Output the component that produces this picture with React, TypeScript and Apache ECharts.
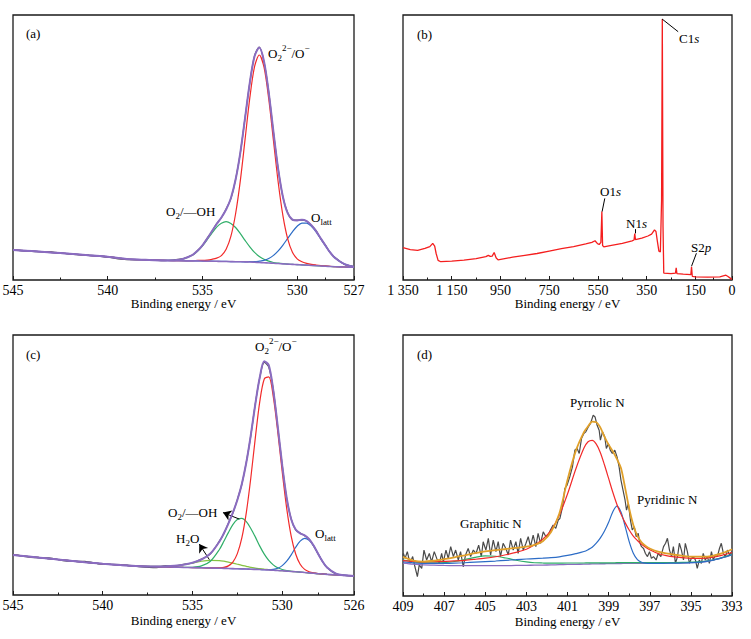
import React, { useEffect, useRef } from 'react';
import * as echarts from 'echarts';

const FONT = '"Liberation Serif", "Times New Roman", Times, serif';

// ---------- (a) O 1s ----------
const aEnergy = [545, 544, 543, 542, 541, 540, 539, 538, 537, 536.5, 536, 535.5, 535.25, 535, 534.75, 534.5, 534.25, 534, 533.75, 533.5, 533.25, 533, 532.75, 532.5, 532.25, 532, 531.75, 531.5, 531.25, 531, 530.75, 530.5, 530.25, 530, 529.75, 529.5, 529.25, 529, 528.75, 528.5, 528.25, 528, 527.5, 527];
const aRaw = [11.4, 10.8, 10.6, 9.8, 9.4, 8.6, 7.7, 7.7, 7.3, 7.6, 8.1, 9.5, 11.2, 13.0, 15.7, 18.3, 21.3, 23.5, 26.8, 30.7, 38.0, 48.0, 61.3, 74.4, 84.6, 87.9, 82.3, 70.9, 55.6, 41.9, 31.2, 25.4, 22.7, 22.6, 22.6, 22.3, 20.6, 18.6, 15.5, 13.1, 10.2, 8.5, 5.9, 5.1];
const aEnvelope = [11.3, 10.9, 10.4, 9.9, 9.3, 8.8, 7.9, 7.6, 7.4, 7.45, 8.0, 9.6, 11.1, 13.1, 15.6, 18.4, 21.15, 23.6, 26.6, 30.85, 37.9, 48.1, 61.15, 74.5, 84.4, 87.7, 82.5, 70.7, 55.8, 41.75, 31.35, 25.2, 22.8, 22.5, 22.7, 22.2, 20.7, 18.45, 15.65, 12.9, 10.3, 8.3, 6.0, 5.0];
const aBackground = [11.3, 10.9, 10.4, 9.9, 9.3, 8.8, 7.9, 7.6, 7.4, 7.3, 7.25, 7.2, 7.2, 7.15, 7.1, 7.1, 7.05, 7.0, 7.0, 6.95, 6.9, 6.9, 6.85, 6.8, 6.7, 6.6, 6.5, 6.4, 6.3, 6.2, 6.1, 6.0, 5.9, 5.8, 5.7, 5.6, 5.5, 5.4, 5.3, 5.2, 5.1, 5.0, 4.9, 4.8];
const aPeroxide = [11.3, 10.9, 10.4, 9.9, 9.3, 8.8, 7.9, 7.6, 7.4, 7.3, 7.3, 7.3, 7.4, 7.4, 7.5, 7.8, 8.25, 9.2, 11.6, 16.45, 25.0, 37.5, 53.05, 68.7, 80.5, 84.9, 80.3, 68.3, 52.5, 36.8, 24.2, 15.5, 10.5, 8.0, 6.9, 6.3, 5.9, 5.65, 5.45, 5.3, 5.15, 5.0, 4.9, 4.8];
const aHydroxyl = [11.3, 10.9, 10.4, 9.9, 9.3, 8.8, 7.9, 7.6, 7.4, 7.45, 7.95, 9.5, 10.9, 12.85, 15.2, 17.7, 19.95, 21.4, 22.0, 21.35, 19.8, 17.5, 14.95, 12.5, 10.4, 8.9, 7.8, 7.1, 6.6, 6.35, 6.15, 6.0, 5.9, 5.8, 5.7, 5.6, 5.5, 5.4, 5.3, 5.2, 5.1, 5.0, 4.9, 4.8];
const aLattice = [11.3, 10.9, 10.4, 9.9, 9.3, 8.8, 7.9, 7.6, 7.4, 7.3, 7.25, 7.2, 7.2, 7.15, 7.1, 7.1, 7.05, 7.0, 7.0, 6.95, 6.9, 6.9, 6.85, 6.9, 6.9, 7.1, 7.4, 8.1, 9.3, 11.0, 13.2, 15.7, 18.2, 20.3, 21.5, 21.5, 20.3, 18.2, 15.5, 12.8, 10.3, 8.3, 6.0, 5.0];

// ---------- (b) survey ----------
const bEnergy = [1350, 1320, 1290, 1260, 1240, 1228, 1220, 1214, 1206, 1195, 1150, 1100, 1050, 1010, 1000, 992, 984, 976, 968, 960, 900, 850, 800, 750, 700, 650, 600, 575, 562, 552, 545, 538, 534, 531, 526, 500, 450, 410, 402, 399, 396, 370, 345, 330, 318, 312, 306, 300, 294, 289, 286, 283, 280, 250, 232, 229, 226, 200, 169, 166, 163, 150, 100, 50, 25, 18, 10, 0];
const bIntensity = [12.2, 11.5, 11.2, 11.9, 12.6, 13.8, 12.8, 10.0, 7.4, 6.9, 7.1, 7.5, 8.1, 8.8, 9.3, 8.9, 9.0, 10.4, 8.4, 7.6, 8.6, 9.3, 10.0, 10.9, 11.8, 12.6, 13.6, 14.2, 14.8, 13.7, 13.4, 14.2, 25.8, 13.0, 12.5, 13.0, 13.8, 14.8, 15.1, 17.5, 15.2, 15.8, 16.6, 17.3, 18.9, 18.3, 14.5, 10.9, 10.6, 30, 98.5, 20, 2.6, 2.4, 2.6, 4.6, 2.4, 2.2, 2.0, 5.0, 1.4, 1.2, 1.1, 1.2, 1.8, 1.4, 0.9, 0.2];

// ---------- (c) O 1s ----------
const cEnergy = [545, 544, 543, 542, 541, 540, 539, 538, 537, 536.5, 536, 535.5, 535, 534.5, 534, 533.5, 533.25, 533, 532.75, 532.5, 532.25, 532, 531.75, 531.5, 531.25, 531, 530.75, 530.5, 530.25, 530, 529.75, 529.5, 529.25, 529, 528.75, 528.5, 528.25, 528, 527.75, 527.5, 527, 526.5, 526];
const cRaw = [15.6, 14.5, 14.3, 13.0, 12.9, 11.8, 11.7, 10.9, 10.5, 11.3, 11.1, 11.8, 12.3, 13.8, 15.8, 20.7, 23.6, 27.6, 31.5, 36.7, 42.6, 51.1, 61.3, 73.5, 83.6, 89.5, 87.7, 79.1, 64.7, 50.0, 37.2, 29.3, 25.0, 23.8, 22.8, 21.5, 18.9, 15.9, 12.8, 10.6, 8.1, 7.6, 7.3];
const cEnvelope = [15.4, 14.7, 14.0, 13.3, 12.6, 12.0, 11.5, 11.1, 10.98, 11.02, 11.22, 11.64, 12.41, 13.65, 15.94, 20.54, 23.75, 27.47, 31.67, 36.54, 42.72, 50.94, 61.45, 73.37, 83.74, 89.9, 88.4, 78.93, 64.9, 49.92, 37.3, 29.14, 25.18, 23.7, 22.95, 21.45, 19.0, 15.85, 12.9, 10.55, 8.2, 7.56, 7.3];
const cBackground = [15.4, 14.7, 14.0, 13.3, 12.6, 12.0, 11.5, 11.1, 10.9, 10.8, 10.7, 10.6, 10.55, 10.5, 10.4, 10.3, 10.25, 10.2, 10.15, 10.1, 10.05, 10.0, 9.9, 9.85, 9.8, 9.7, 9.6, 9.5, 9.4, 9.3, 9.2, 9.05, 8.95, 8.8, 8.65, 8.5, 8.35, 8.2, 8.1, 7.95, 7.7, 7.5, 7.3];
const cPeroxide = [15.4, 14.7, 14.0, 13.3, 12.6, 12.0, 11.5, 11.1, 10.9, 10.8, 10.7, 10.6, 10.55, 10.5, 10.4, 10.45, 10.6, 11.2, 12.65, 15.9, 21.95, 31.7, 45.0, 60.35, 74.4, 83.1, 83.9, 76.4, 62.9, 47.4, 33.3, 22.65, 15.75, 11.8, 9.85, 8.95, 8.5, 8.25, 8.1, 7.95, 7.7, 7.5, 7.3];
const cHydroxyl = [15.4, 14.7, 14.0, 13.3, 12.6, 12.0, 11.5, 11.1, 10.9, 10.8, 10.7, 10.6, 10.67, 11.18, 13.0, 17.5, 20.65, 24.0, 27.05, 29.0, 29.45, 28.2, 25.6, 22.35, 18.8, 15.7, 13.3, 11.6, 10.46, 9.8, 9.4, 9.14, 8.98, 8.8, 8.65, 8.5, 8.35, 8.2, 8.1, 7.95, 7.7, 7.5, 7.3];
const cWater = [15.4, 14.7, 14.0, 13.3, 12.6, 12.0, 11.5, 11.1, 10.98, 11.02, 11.22, 11.64, 12.29, 12.97, 13.34, 13.24, 13.0, 12.67, 12.27, 11.84, 11.42, 11.04, 10.65, 10.37, 10.14, 9.92, 9.73, 9.58, 9.44, 9.32, 9.2, 9.05, 8.95, 8.8, 8.65, 8.5, 8.35, 8.2, 8.1, 7.95, 7.7, 7.5, 7.3];
const cLattice = [15.4, 14.7, 14.0, 13.3, 12.6, 12.0, 11.5, 11.1, 10.9, 10.8, 10.7, 10.6, 10.55, 10.5, 10.4, 10.3, 10.25, 10.2, 10.15, 10.1, 10.05, 10.0, 9.9, 9.85, 9.8, 9.74, 9.72, 9.85, 10.3, 11.3, 13.0, 15.45, 18.35, 20.7, 21.75, 21.0, 18.85, 15.8, 12.9, 10.55, 8.2, 7.56, 7.3];

// ---------- (d) N 1s ----------
const dEnergy = [409, 408.5, 408, 407.5, 407, 406.5, 406, 405.5, 405, 404.5, 404, 403.5, 403, 402.6, 402.2, 401.8, 401.4, 401.0, 400.6, 400.2, 400.0, 399.8, 399.6, 399.4, 399.2, 399.0, 398.8, 398.6, 398.4, 398.2, 398.0, 397.8, 397.6, 397.4, 397.2, 397.0, 396.6, 396.2, 395.8, 395.4, 395.0, 394.5, 394.0, 393.5, 393.0];
const dEnvelope = [15.0, 13.6, 13.2, 13.5, 14.1, 14.8, 15.6, 16.4, 17.1, 17.6, 18.0, 18.4, 18.9, 19.6, 21.0, 24.5, 31.5, 44.5, 55.5, 62.8, 65.0, 66.8, 66.6, 64.5, 61.0, 58.0, 55.5, 52.5, 49.0, 41.5, 33.5, 27.2, 23.0, 20.6, 19.2, 18.2, 17.0, 16.3, 15.8, 15.4, 15.1, 15.1, 15.3, 16.3, 17.9];
const dBackground = [12.6, 12.2, 11.9, 11.8, 11.7, 11.65, 11.6, 11.6, 11.6, 11.6, 11.65, 11.7, 11.75, 11.8, 11.85, 11.9, 12.0, 12.1, 12.15, 12.2, 12.25, 12.3, 12.3, 12.35, 12.35, 12.4, 12.4, 12.45, 12.45, 12.5, 12.5, 12.5, 12.5, 12.5, 12.5, 12.5, 12.5, 12.55, 12.6, 12.65, 12.75, 13.0, 13.6, 14.6, 15.8];
const dPyrrolic = [13.55, 13.24, 13.08, 13.17, 13.26, 13.45, 13.68, 14.06, 14.49, 15.05, 15.81, 16.71, 17.9, 19.6, 21.78, 25.14, 30.92, 39.06, 48.57, 56.66, 59.08, 59.6, 58.18, 54.92, 50.19, 45.04, 39.83, 35.15, 31.37, 28.11, 25.27, 22.91, 21.25, 19.83, 18.65, 17.7, 16.28, 15.48, 14.97, 14.68, 14.45, 14.42, 14.78, 15.59, 16.65];
const dPyridinic = [13.04, 12.68, 12.47, 12.48, 12.49, 12.57, 12.74, 12.96, 13.18, 13.4, 13.67, 13.9, 14.17, 14.33, 14.49, 14.69, 15.01, 15.55, 16.22, 17.04, 17.75, 18.68, 20.22, 22.25, 24.89, 28.24, 32.2, 34.45, 32.18, 26.78, 20.82, 16.39, 13.97, 12.94, 12.61, 12.5, 12.5, 12.55, 12.6, 12.65, 12.75, 13.0, 13.6, 14.6, 15.8];
const dGraphitic = [13.8, 13.2, 12.77, 12.69, 12.8, 13.22, 13.95, 14.83, 15.37, 15.22, 14.55, 13.7, 13.04, 12.74, 12.64, 12.58, 12.6, 12.65, 12.65, 12.65, 12.7, 12.7, 12.7, 12.7, 12.7, 12.7, 12.7, 12.75, 12.75, 12.8, 12.8, 12.8, 12.8, 12.8, 12.8, 12.8, 12.8, 12.8, 12.8, 12.85, 12.95, 13.15, 13.7, 14.7, 15.85];
const dRawEnergy = [409.0, 408.98, 408.9, 408.79, 408.66, 408.53, 408.42, 408.3, 408.21, 408.09, 407.98, 407.85, 407.72, 407.61, 407.48, 407.36, 407.23, 407.12, 407.04, 406.91, 406.8, 406.68, 406.55, 406.44, 406.31, 406.2, 406.07, 405.96, 405.83, 405.71, 405.58, 405.45, 405.32, 405.19, 405.1, 404.97, 404.85, 404.74, 404.61, 404.48, 404.37, 404.26, 404.13, 404.0, 403.88, 403.77, 403.64, 403.51, 403.4, 403.28, 403.15, 403.02, 402.91, 402.8, 402.67, 402.54, 402.43, 402.31, 402.18, 402.05, 401.94, 401.83, 401.7, 401.57, 401.45, 401.37, 401.24, 401.13, 401.02, 400.89, 400.76, 400.64, 400.53, 400.43, 400.32, 400.21, 400.11, 399.99, 399.88, 399.75, 399.66, 399.56, 399.46, 399.4, 399.3, 399.19, 399.11, 399.01, 398.92, 398.82, 398.7, 398.59, 398.49, 398.4, 398.3, 398.2, 398.13, 398.04, 397.94, 397.85, 397.75, 397.66, 397.56, 397.5, 397.4, 397.3, 397.21, 397.11, 397.01, 396.92, 396.82, 396.69, 396.59, 396.46, 396.33, 396.23, 396.14, 396.04, 395.94, 395.85, 395.75, 395.65, 395.56, 395.46, 395.36, 395.27, 395.17, 395.07, 394.98, 394.88, 394.78, 394.69, 394.59, 394.49, 394.4, 394.3, 394.2, 394.1, 394.0, 393.91, 393.81, 393.71, 393.61, 393.52, 393.42, 393.32, 393.22, 393.12, 393.02];
const dRaw = [15.5, 16.3, 14.4, 17.0, 12.5, 15.1, 11.2, 7.4, 11.9, 10.6, 17.6, 13.8, 16.3, 13.1, 17.0, 14.4, 12.5, 16.3, 13.1, 17.6, 14.4, 18.9, 15.1, 17.6, 13.8, 17.0, 11.2, 15.7, 18.2, 15.1, 17.6, 16.3, 19.5, 15.1, 20.8, 17.6, 22.1, 15.7, 21.4, 17.0, 20.8, 15.1, 20.2, 18.2, 15.7, 21.4, 17.6, 20.8, 16.3, 22.1, 17.6, 20.2, 22.7, 18.9, 23.3, 18.9, 24.0, 20.2, 24.6, 22.7, 23.3, 25.3, 27.2, 25.9, 29.1, 29.7, 34.2, 41.2, 42.5, 45.7, 49.5, 55.9, 56.5, 54.6, 60.3, 62.2, 62.9, 64.8, 66.1, 69.3, 68.6, 65.4, 63.5, 59.7, 62.9, 61.0, 56.5, 58.4, 55.9, 54.6, 55.9, 53.3, 49.5, 44.4, 40.6, 36.7, 32.9, 35.5, 29.1, 25.3, 26.5, 22.7, 24.0, 20.8, 18.9, 18.2, 16.3, 15.1, 17.0, 14.4, 15.1, 13.8, 16.3, 15.1, 18.9, 20.2, 22.1, 17.6, 15.1, 18.9, 12.5, 15.1, 20.2, 17.6, 13.8, 20.2, 17.0, 12.5, 14.4, 15.1, 13.8, 10.6, 13.8, 12.5, 16.3, 13.8, 15.1, 12.5, 17.0, 13.8, 15.7, 15.1, 18.2, 20.2, 16.3, 15.1, 17.6, 15.7, 17.0];

// ---------- axes ----------
const aTickValues = [545, 540, 535, 530, 527];
const aMinorTicks = [542.5, 537.5, 532.5, 528.5];
const bTickValues = [1350, 1150, 950, 750, 550, 350, 150, 0];
const bTickLabels = ['1 350', '1 150', '950', '750', '550', '350', '150', '0'];
const bMinorTicks = [1250, 1050, 850, 650, 450, 250, 75];
const cTickValues = [545, 540, 535, 530, 526];
const cMinorTicks = [542.5, 537.5, 532.5, 528];
const dTickValues = [409, 407, 405, 403, 401, 399, 397, 395, 393];
const dMinorTicks = [408, 406, 404, 402, 400, 398, 396, 394];
const axisTitle = 'Binding energy / eV';

const C = {
  purple: '#8a6cc0',
  red: '#f22a2a',
  green: '#2fae68',
  blue: '#2c6cc6',
  lime: '#86c241',
  orange: '#e0a02a',
  gray: '#4a4a4a',
  frame: '#1a1a1a',
};

const GRIDS = [
  { left: 13, top: 15, width: 341, height: 265 },
  { left: 403, top: 15, width: 329, height: 265 },
  { left: 13, top: 335, width: 341, height: 260 },
  { left: 403, top: 335, width: 329, height: 261 },
];

const PANELS = [
  { min: 527, max: 545, majors: aTickValues, labels: aTickValues.map(String), minors: aMinorTicks, nameGap: 17, margin: 3 },
  { min: 0, max: 1350, majors: bTickValues, labels: bTickLabels, minors: bMinorTicks, nameGap: 17, margin: 3 },
  { min: 526, max: 545, majors: cTickValues, labels: cTickValues.map(String), minors: cMinorTicks, nameGap: 19, margin: 3 },
  { min: 393, max: 409, majors: dTickValues, labels: dTickValues.map(String), minors: dMinorTicks, nameGap: 19, margin: 3 },
];

function pairs(xs: number[], ys: number[]) {
  return xs.map((x, i) => [x, ys[i]]);
}

function lineSeries(p: number, xs: number[], ys: number[], color: string, width: number, z: number, smooth: number | boolean = 0.3, extra: any = {}) {
  return {
    type: 'line',
    xAxisIndex: p,
    yAxisIndex: p,
    data: pairs(xs, ys),
    symbol: 'none',
    showSymbol: false,
    smooth,
    lineStyle: { color, width },
    z,
    silent: true,
    ...extra,
  };
}

const RICH = {
  n: { fontSize: 13, fontFamily: FONT, fill: '#000', lineHeight: 19 },
  i: { fontSize: 13, fontFamily: FONT, fill: '#000', lineHeight: 19, fontStyle: 'italic' },
  sub: { fontSize: 9, fontFamily: FONT, fill: '#000', lineHeight: 9, verticalAlign: 'bottom' },
  sup: { fontSize: 9, fontFamily: FONT, fill: '#000', lineHeight: 9, verticalAlign: 'top' },
};

function note(x: number, y: number, text: string) {
  return {
    type: 'text',
    x,
    y,
    silent: true,
    z: 100,
    style: { text, rich: RICH, fill: '#000', fontSize: 13, fontFamily: FONT, align: 'left', verticalAlign: 'middle' },
  };
}

const leaderStyle = { color: '#000', width: 1, type: 'solid' };

export default function App() {
  const ref = useRef<HTMLDivElement>(null);

  useEffect(() => {
    if (!ref.current) return;
    const chart = echarts.init(ref.current, undefined, { renderer: 'svg' });

    const mainAxes = PANELS.map((p, i) => ({
      type: 'value',
      gridIndex: i,
      min: p.min,
      max: p.max,
      inverse: true,
      position: 'bottom',
      name: axisTitle,
      nameLocation: 'middle',
      nameGap: p.nameGap,
      nameMoveOverlap: false,
      nameTextStyle: { fontFamily: FONT, fontSize: 13, color: '#000' },
      axisLine: { show: false, onZero: false },
      axisTick: { show: true, inside: true, length: 4, customValues: p.majors, lineStyle: { color: C.frame, width: 1 } },
      axisLabel: {
        show: true,
        customValues: p.majors,
        margin: p.margin,
        fontFamily: FONT,
        fontSize: 14,
        color: '#000',
        formatter: (v: number) => {
          const k = p.majors.indexOf(v);
          return k >= 0 ? p.labels[k] : '';
        },
      },
      splitLine: { show: false },
    }));

    const minorAxes = PANELS.map((p, i) => ({
      type: 'value',
      gridIndex: i,
      min: p.min,
      max: p.max,
      inverse: true,
      position: 'bottom',
      axisLine: { show: false, onZero: false },
      axisTick: { show: true, inside: true, length: 2.5, customValues: p.minors, lineStyle: { color: C.frame, width: 1 } },
      axisLabel: { show: false },
      splitLine: { show: false },
    }));

    const yAxes = PANELS.map((_, i) => ({ type: 'value', gridIndex: i, min: 0, max: 100, show: false }));

    const series: any[] = [
      // (a)
      lineSeries(0, aEnergy, aRaw, C.gray, 1.2, 1),
      lineSeries(0, aEnergy, aHydroxyl, C.green, 1.2, 2),
      lineSeries(0, aEnergy, aLattice, C.blue, 1.2, 2),
      lineSeries(0, aEnergy, aPeroxide, C.red, 1.2, 3),
      lineSeries(0, aEnergy, aBackground, C.purple, 1.6, 4),
      lineSeries(0, aEnergy, aEnvelope, C.purple, 2, 5),
      // (b)
      lineSeries(1, bEnergy, bIntensity, '#f41e1e', 1.3, 2, false, {
        markLine: {
          silent: true,
          symbol: ['none', 'none'],
          label: { show: false },
          lineStyle: leaderStyle,
          emphasis: { disabled: true },
          data: [
            [{ coord: [287, 98.5] }, { coord: [221, 93.7] }],
            [{ coord: [533, 25.8] }, { coord: [522, 30.8] }],
            [{ coord: [399, 17.6] }, { coord: [399, 19.2] }],
            [{ coord: [146, 10.1] }, { coord: [166, 5.2] }],
          ],
        },
      }),
      // (c)
      lineSeries(2, cEnergy, cRaw, C.gray, 1.2, 1),
      lineSeries(2, cEnergy, cWater, C.lime, 1.2, 2),
      lineSeries(2, cEnergy, cHydroxyl, C.green, 1.2, 2, 0.3, {
        markLine: {
          silent: true,
          symbol: ['none', 'arrow'],
          symbolSize: 8,
          label: { show: false },
          lineStyle: leaderStyle,
          emphasis: { disabled: true },
          data: [
            [{ coord: [532.39, 29.2] }, { coord: [533.3, 31.7] }],
            [{ coord: [534.06, 13.6] }, { coord: [534.62, 19.6] }],
          ],
        },
      }),
      lineSeries(2, cEnergy, cLattice, C.blue, 1.2, 2),
      lineSeries(2, cEnergy, cPeroxide, C.red, 1.2, 3),
      lineSeries(2, cEnergy, cBackground, C.purple, 1.6, 4),
      lineSeries(2, cEnergy, cEnvelope, C.purple, 2, 5),
      // (d)
      lineSeries(3, dRawEnergy, dRaw, C.gray, 1.2, 1, false),
      lineSeries(3, dEnergy, dBackground, C.purple, 1.3, 2),
      lineSeries(3, dEnergy, dGraphitic, C.green, 1.2, 3),
      lineSeries(3, dEnergy, dPyridinic, C.blue, 1.2, 3),
      lineSeries(3, dEnergy, dPyrrolic, C.red, 1.2, 3),
      lineSeries(3, dEnergy, dEnvelope, C.orange, 1.8, 5),
    ];

    const graphic = [
      note(26, 33, '(a)'),
      note(268, 53, '{n|O}{sub|2}{sup|2−}{n|/O}{sup|−}'),
      note(166, 211, '{n|O}{sub|2}{n|/—OH}'),
      note(311, 217, '{n|O}{sub|latt}'),
      note(417, 34, '(b)'),
      note(679, 38, '{n|C1}{i|s}'),
      note(600, 191, '{n|O1}{i|s}'),
      note(626, 223, '{n|N1}{i|s}'),
      note(691, 247, '{n|S2}{i|p}'),
      note(26, 354, '(c)'),
      note(255, 346, '{n|O}{sub|2}{sup|2−}{n|/O}{sup|−}'),
      note(168, 512, '{n|O}{sub|2}{n|/—OH}'),
      note(176, 538, '{n|H}{sub|2}{n|O}'),
      note(315, 533, '{n|O}{sub|latt}'),
      note(417, 354, '(d)'),
      note(570, 402, 'Pyrrolic N'),
      note(637, 499, 'Pyridinic N'),
      note(460, 523, 'Graphitic N'),
    ];

    chart.setOption({
      animation: false,
      backgroundColor: '#ffffff',
      textStyle: { fontFamily: FONT },
      grid: GRIDS.map((g) => ({
        ...g,
        show: true,
        borderColor: C.frame,
        borderWidth: 1.3,
        backgroundColor: 'transparent',
        containLabel: false,
        outerBoundsMode: 'none',
      })),
      xAxis: [...mainAxes, ...minorAxes],
      yAxis: yAxes,
      series,
      graphic,
    });

    return () => {
      chart.dispose();
    };
  }, []);

  return (
    <div
      ref={ref}
      style={{ position: 'absolute', left: 0, top: 0, width: 751, height: 639, background: '#fff' }}
    />
  );
}
